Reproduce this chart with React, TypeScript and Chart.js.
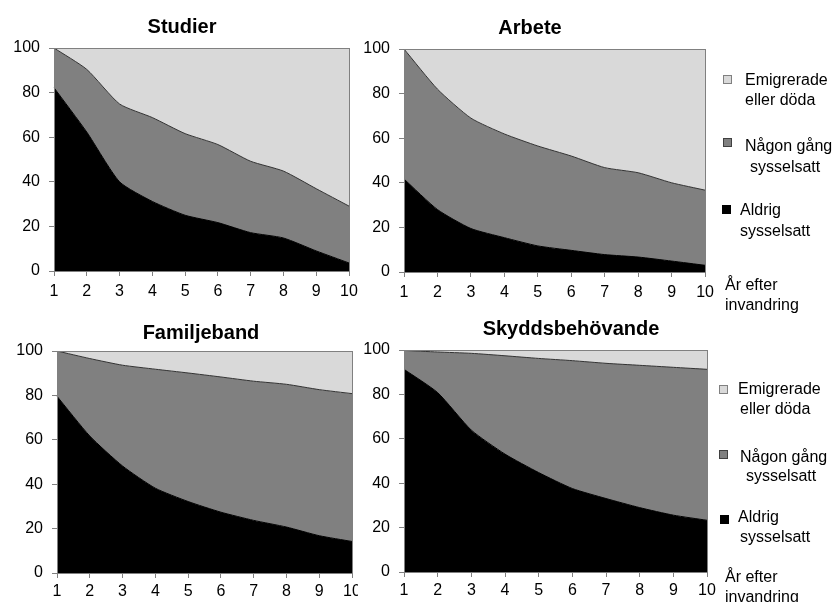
import React, { useEffect, useRef } from "react";
import { Chart, registerables } from "chart.js";

Chart.register(...registerables);

const years = ["1", "2", "3", "4", "5", "6", "7", "8", "9", "10"];
const yTickStep = 20;

const studierAldrig = [82.2, 62.3, 40.0, 31.2, 25.0, 21.7, 17.2, 14.8, 9.0, 3.6];
const studierNagon = [17.8, 28.1, 34.9, 37.6, 36.6, 35.0, 32.0, 30.0, 27.9, 25.5];
const studierEmigrerade = [0, 9.6, 25.1, 31.2, 38.4, 43.3, 50.8, 55.2, 63.1, 70.9];

const arbeteAldrig = [41.7, 28.0, 19.5, 15.4, 11.7, 9.7, 7.8, 6.7, 4.9, 3.0];
const arbeteNagon = [58.3, 54.0, 49.5, 46.5, 44.8, 42.3, 39.0, 37.8, 35.1, 33.7];
const arbeteEmigrerade = [0, 18.0, 31.0, 38.1, 43.5, 48.0, 53.2, 55.5, 60.0, 63.3];

const familjAldrig = [79.6, 61.7, 48.2, 38.2, 32.2, 27.4, 23.7, 20.7, 16.8, 14.2];
const familjNagon = [20.4, 34.9, 45.4, 53.6, 57.9, 60.9, 62.7, 64.3, 65.8, 66.6];
const familjEmigrerade = [0, 3.4, 6.4, 8.2, 9.9, 11.7, 13.6, 15.0, 17.4, 19.2];

const skyddAldrig = [91.3, 80.8, 63.9, 53.1, 44.8, 37.6, 33.1, 29.0, 25.6, 23.3];
const skyddNagon = [8.5, 18.3, 34.6, 44.3, 51.4, 57.6, 60.9, 64.1, 66.6, 68.0];
const skyddEmigrerade = [0.2, 0.9, 1.5, 2.6, 3.8, 4.8, 6.0, 6.9, 7.8, 8.7];

const seriesLabels = ["Aldrig sysselsatt", "Någon gång sysselsatt", "Emigrerade eller döda"];

const FONT = "'Liberation Sans', Arial, sans-serif";
const BLACK = "#000000";
const MID = "#808080";
const LIGHT = "#d9d9d9";
const FRAME = "#808080";

const framePlugin = {
  id: "frame",
  afterDatasetsDraw(chart: any) {
    const a = chart.chartArea;
    const ctx = chart.ctx;
    ctx.save();
    ctx.strokeStyle = FRAME;
    ctx.lineWidth = 1;
    ctx.strokeRect(Math.round(a.left) + 0.5, Math.round(a.top) + 0.5, Math.round(a.right - a.left), Math.round(a.bottom - a.top));
    ctx.restore();
  },
};

type PanelProps = {
  left: number;
  top: number;
  width: number;
  height: number;
  yAxisWidth: number;
  padTop: number;
  padRight: number;
  xPad: number;
  white?: boolean;
  aldrig: number[];
  nagon: number[];
  emigrerade: number[];
};

function Panel(p: PanelProps) {
  const ref = useRef<HTMLCanvasElement | null>(null);
  useEffect(() => {
    if (!ref.current) return;
    const tickFont = { family: FONT, size: 16 };
    const chart = new Chart(ref.current, {
      type: "line",
      data: {
        labels: years,
        datasets: [
          {
            label: seriesLabels[0],
            data: p.aldrig,
            backgroundColor: BLACK,
            borderColor: BLACK,
            borderWidth: 1,
            fill: "origin",
            pointRadius: 0,
            tension: 0.2,
          },
          {
            label: seriesLabels[1],
            data: p.nagon,
            backgroundColor: MID,
            borderColor: "#333333",
            borderWidth: 1,
            fill: "-1",
            pointRadius: 0,
            tension: 0.2,
          },
          {
            label: seriesLabels[2],
            data: p.emigrerade,
            backgroundColor: LIGHT,
            borderColor: FRAME,
            borderWidth: 1,
            fill: "-1",
            pointRadius: 0,
            tension: 0,
          },
        ],
      },
      options: {
        responsive: false,
        animation: false,
        events: [],
        layout: { padding: { top: p.padTop, right: p.padRight, left: 0, bottom: 0 } },
        plugins: { legend: { display: false }, title: { display: false }, tooltip: { enabled: false } },
        scales: {
          x: {
            offset: false,
            grid: { display: true, drawOnChartArea: false, drawTicks: true, tickLength: 5, color: FRAME },
            border: { display: true, color: FRAME },
            ticks: { color: BLACK, font: tickFont, padding: p.xPad, maxRotation: 0, autoSkip: false },
            afterFit: (s: any) => {
              s.height = 29;
            },
          },
          y: {
            stacked: true,
            min: 0,
            max: 100,
            grid: { display: true, drawOnChartArea: false, drawTicks: true, tickLength: 5, color: FRAME },
            border: { display: true, color: FRAME },
            ticks: { color: BLACK, font: tickFont, stepSize: yTickStep, padding: 9 },
            afterFit: (s: any) => {
              s.width = p.yAxisWidth;
            },
          },
        },
      },
      plugins: [framePlugin],
    } as any);
    return () => chart.destroy();
  }, []);
  return (
    <canvas
      ref={ref}
      width={p.width}
      height={p.height}
      style={{
        position: "absolute",
        left: p.left,
        top: p.top,
        width: p.width,
        height: p.height,
        background: p.white ? "#ffffff" : "transparent",
      }}
    />
  );
}

const textBase: React.CSSProperties = {
  position: "absolute",
  fontFamily: FONT,
  fontSize: 16,
  lineHeight: "19px",
  color: "#000",
  whiteSpace: "nowrap",
};

function Title({ text, cx, top }: { text: string; cx: number; top: number }) {
  return (
    <div
      style={{
        ...textBase,
        left: cx,
        top,
        fontSize: 20,
        lineHeight: "24px",
        fontWeight: "bold",
        transform: "translateX(-50%)",
      }}
    >
      {text}
    </div>
  );
}

function Txt({ text, x, y }: { text: string; x: number; y: number }) {
  return <div style={{ ...textBase, left: x, top: y }}>{text}</div>;
}

function Sq({ x, y, fill, stroke }: { x: number; y: number; fill: string; stroke: string }) {
  return (
    <div
      style={{
        position: "absolute",
        left: x,
        top: y,
        width: 7,
        height: 7,
        background: fill,
        border: `1px solid ${stroke}`,
      }}
    />
  );
}

export default function App() {
  return (
    <div style={{ position: "absolute", left: 0, top: 0, width: 837, height: 602, background: "#fff", overflow: "hidden" }}>
      <Panel left={0} top={0} width={365} height={300} yAxisWidth={54} padTop={48} padRight={16} xPad={6}
        aldrig={studierAldrig} nagon={studierNagon} emigrerade={studierEmigrerade} />
      <Panel left={356} top={0} width={364} height={301} yAxisWidth={48} padTop={49} padRight={14} xPad={6}
        aldrig={arbeteAldrig} nagon={arbeteNagon} emigrerade={arbeteEmigrerade} />
      <Panel left={0} top={305} width={368} height={297} yAxisWidth={57} padTop={46} padRight={16} xPad={4}
        aldrig={familjAldrig} nagon={familjNagon} emigrerade={familjEmigrerade} />
      <Panel left={358} top={305} width={362} height={296} yAxisWidth={46} padTop={45} padRight={13} xPad={4} white
        aldrig={skyddAldrig} nagon={skyddNagon} emigrerade={skyddEmigrerade} />

      <Title text="Studier" cx={182} top={14} />
      <Title text="Arbete" cx={530} top={15} />
      <Title text="Familjeband" cx={201} top={320} />
      <Title text="Skyddsbehövande" cx={571} top={316} />

      <Sq x={723} y={75} fill={LIGHT} stroke={MID} />
      <Txt text="Emigrerade" x={745} y={70} />
      <Txt text="eller döda" x={745} y={90} />
      <Sq x={723} y={138} fill={MID} stroke="#404040" />
      <Txt text="Någon gång" x={745} y={136} />
      <Txt text="sysselsatt" x={750} y={157} />
      <Sq x={722} y={205} fill={BLACK} stroke={BLACK} />
      <Txt text="Aldrig" x={740} y={200} />
      <Txt text="sysselsatt" x={740} y={221} />
      <Txt text="År efter" x={725} y={275} />
      <Txt text="invandring" x={725} y={295} />

      <Sq x={719} y={385} fill={LIGHT} stroke={MID} />
      <Txt text="Emigrerade" x={738} y={379} />
      <Txt text="eller döda" x={740} y={399} />
      <Sq x={719} y={450} fill={MID} stroke="#404040" />
      <Txt text="Någon gång" x={740} y={447} />
      <Txt text="sysselsatt" x={746} y={466} />
      <Sq x={720} y={515} fill={BLACK} stroke={BLACK} />
      <Txt text="Aldrig" x={738} y={507} />
      <Txt text="sysselsatt" x={740} y={527} />
      <Txt text="År efter" x={725} y={567} />
      <Txt text="invandring" x={725} y={587} />
    </div>
  );
}
